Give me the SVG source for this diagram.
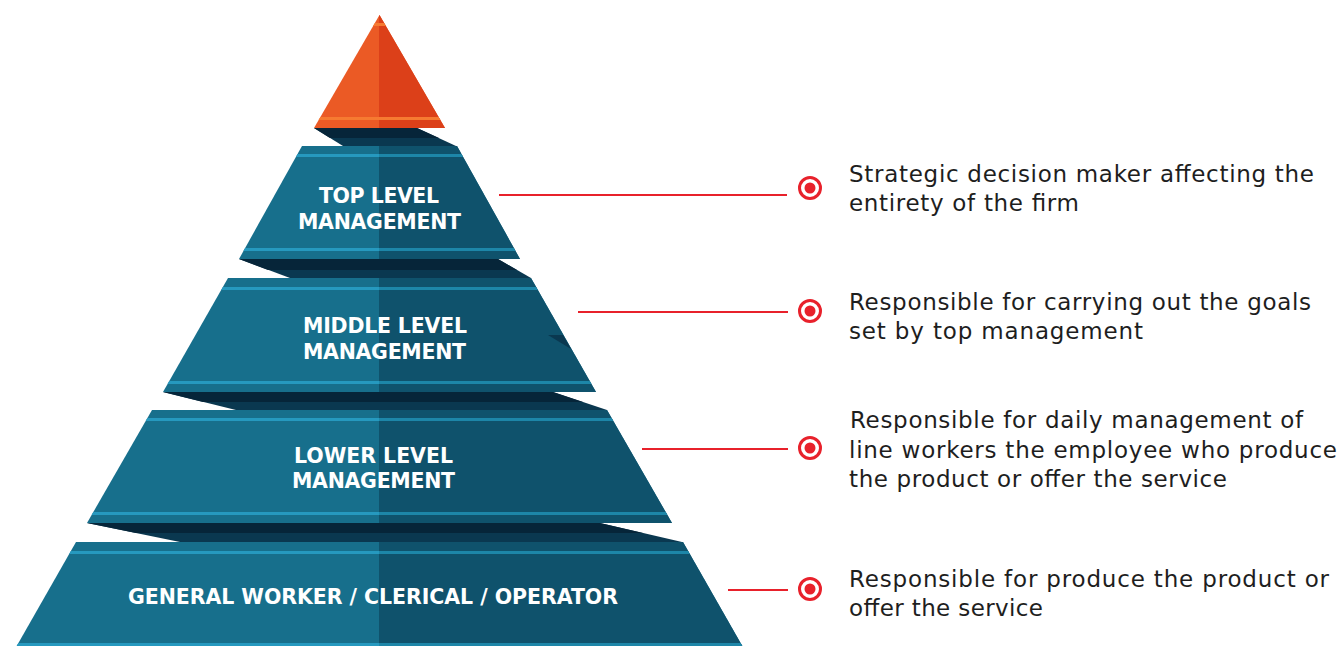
<svg xmlns="http://www.w3.org/2000/svg" width="1341" height="646" viewBox="0 0 1341 646">
<style>
.l{fill:#176F8C}.r{fill:#0F526C}.sl{fill:#2699BF}.sr{fill:#1D86A8}
.ol{fill:#EB5A25}.or{fill:#DC4019}.os{fill:#F67A31}
.sd{fill:#062539}.sm{fill:#0A3850}
.lab{font-family:"DejaVu Sans",sans-serif;font-weight:bold;font-size:20.5px;fill:#FFFFFF}
.desc{font-family:"DejaVu Sans",sans-serif;font-size:23px;fill:#1E1E1E}
.ln{stroke:#E8212B;stroke-width:2.2;fill:none}
.ring{stroke:#E8212B;stroke-width:3;fill:none}
.dot{fill:#E8212B}
</style>
<defs>
<clipPath id="c0"><polygon points="379.5,15 445,128 314,128"/></clipPath>
<clipPath id="c1"><polygon points="302,146 457,146 520,259 239,259"/></clipPath>
<clipPath id="c2"><polygon points="228,278 531,278 596,392 163,392"/></clipPath>
<clipPath id="c3"><polygon points="152,410 607,410 672,523 87,523"/></clipPath>
<clipPath id="c4"><polygon points="76,542 683,542 748,656 11,656"/></clipPath>
</defs>

<g id="shadows">
<polygon class="sm" points="314,128 417,128 456,146 343,146"/>
<polygon class="sd" points="314,128 417,128 439,138 330,138"/>
<polygon class="sm" points="239,259 498,259 531,278 290,278"/>
<polygon class="sd" points="239,259 498,259 517,270 268,270"/>
<polygon class="sm" points="163,392 553,392 607,410 236,410"/>
<polygon class="sd" points="163,392 553,392 583,402 203,402"/>
<polygon class="sm" points="87,523 600,523 682,542 180,542"/>
<polygon class="sd" points="87,523 600,523 643,533 136,533"/>
</g>

<g id="apex">
<g clip-path="url(#c0)">
<rect class="ol" x="300" y="10" width="160" height="120"/>
<rect class="or" x="379" y="10" width="81" height="120"/>
<rect class="os" x="300" y="23" width="160" height="3"/>
<rect class="os" x="300" y="117" width="160" height="3"/>
</g>
</g>

<g id="top-level">
<g clip-path="url(#c1)">
<rect class="l" x="230" y="140" width="300" height="125"/>
<rect class="r" x="379" y="140" width="151" height="125"/>
<rect class="sl" x="230" y="154" width="149" height="3"/>
<rect class="sr" x="379" y="154" width="151" height="3"/>
<rect class="sl" x="230" y="248" width="149" height="3"/>
<rect class="sr" x="379" y="248" width="151" height="3"/>
</g>
<text class="lab" x="319" y="203" textLength="120">TOP LEVEL</text>
<text class="lab" x="298" y="229" textLength="163">MANAGEMENT</text>
</g>

<g id="middle-level">
<g clip-path="url(#c2)">
<rect class="l" x="155" y="270" width="450" height="130"/>
<rect class="r" x="379" y="270" width="226" height="130"/>
<rect class="sl" x="155" y="287" width="224" height="3"/>
<rect class="sr" x="379" y="287" width="226" height="3"/>
<rect class="sl" x="155" y="381" width="224" height="3"/>
<rect class="sr" x="379" y="381" width="226" height="3"/>
<polygon class="sm" points="548,335 563,335 571,349"/>
</g>
<text class="lab" x="303" y="333" textLength="164">MIDDLE LEVEL</text>
<text class="lab" x="303" y="359" textLength="163">MANAGEMENT</text>
</g>

<g id="lower-level">
<g clip-path="url(#c3)">
<rect class="l" x="80" y="405" width="600" height="125"/>
<rect class="r" x="379" y="405" width="301" height="125"/>
<rect class="sl" x="80" y="418" width="299" height="3"/>
<rect class="sr" x="379" y="418" width="301" height="3"/>
<rect class="sl" x="80" y="512" width="299" height="3"/>
<rect class="sr" x="379" y="512" width="301" height="3"/>
</g>
<text class="lab" x="294" y="463" textLength="159">LOWER LEVEL</text>
<text class="lab" x="292" y="488" textLength="163">MANAGEMENT</text>
</g>

<g id="general-worker">
<g clip-path="url(#c4)">
<rect class="l" x="5" y="535" width="750" height="125"/>
<rect class="r" x="379" y="535" width="376" height="125"/>
<rect class="sl" x="5" y="551" width="374" height="3"/>
<rect class="sr" x="379" y="551" width="376" height="3"/>
<rect class="sl" x="5" y="643" width="374" height="3"/>
<rect class="sr" x="379" y="643" width="376" height="3"/>
</g>
<text class="lab" x="128" y="604" textLength="490">GENERAL WORKER / CLERICAL / OPERATOR</text>
</g>

<g id="connectors">
<line class="ln" x1="499" y1="195" x2="787" y2="195"/>
<line class="ln" x1="578" y1="312" x2="788" y2="312"/>
<line class="ln" x1="642" y1="449" x2="788" y2="449"/>
<line class="ln" x1="728" y1="590" x2="788" y2="590"/>
</g>

<g id="desc-1">
<circle class="ring" cx="810" cy="188" r="10.5"/><circle class="dot" cx="810" cy="188" r="5.5"/>
<text class="desc" x="849" y="182" textLength="465">Strategic decision maker affecting the</text>
<text class="desc" x="849" y="211" textLength="230">entirety of the firm</text>
</g>
<g id="desc-2">
<circle class="ring" cx="810" cy="311" r="10.5"/><circle class="dot" cx="810" cy="311" r="5.5"/>
<text class="desc" x="849" y="310" textLength="462">Responsible for carrying out the goals</text>
<text class="desc" x="849" y="339" textLength="294">set by top management</text>
</g>
<g id="desc-3">
<circle class="ring" cx="810" cy="448" r="10.5"/><circle class="dot" cx="810" cy="448" r="5.5"/>
<text class="desc" x="850" y="428" textLength="453">Responsible for daily management of</text>
<text class="desc" x="849" y="458" textLength="488">line workers the employee who produce</text>
<text class="desc" x="849" y="487" textLength="378">the product or offer the service</text>
</g>
<g id="desc-4">
<circle class="ring" cx="810" cy="589" r="10.5"/><circle class="dot" cx="810" cy="589" r="5.5"/>
<text class="desc" x="849" y="587" textLength="480">Responsible for produce the product or</text>
<text class="desc" x="849" y="616" textLength="194">offer the service</text>
</g>
</svg>
